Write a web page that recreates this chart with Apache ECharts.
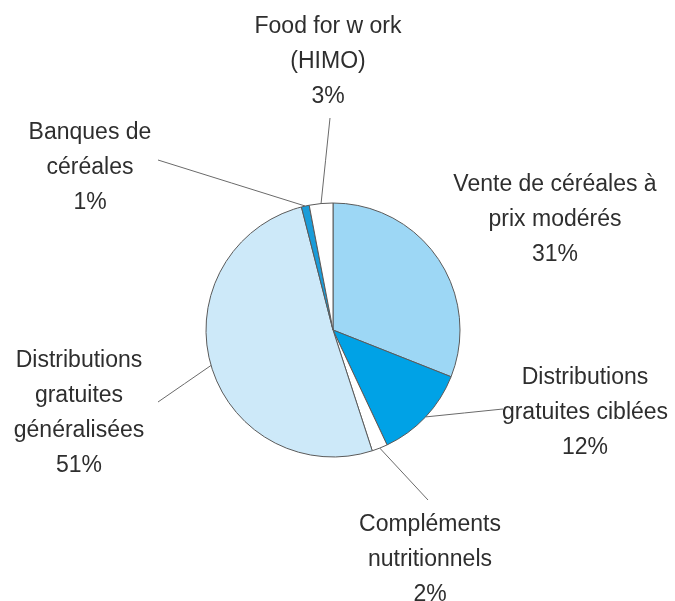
<!DOCTYPE html>
<html>
<head>
<meta charset="utf-8">
<script src="https://cdn.jsdelivr.net/npm/echarts@6/dist/echarts.min.js"></script>
<style>
  html, body { margin: 0; padding: 0; background: #fff; }
  #chart { width: 675px; height: 601px; }
</style>
</head>
<body>
<div id="chart"></div>
<script>
// slices, clockwise from 12 o'clock
const names = [
  'Vente de céréales à\nprix modérés',
  'Distributions\ngratuites ciblées',
  'Compléments\nnutritionnels',
  'Distributions\ngratuites\ngénéralisées',
  'Banques de\ncéréales',
  'Food for w ork\n(HIMO)'
]
const values = [31, 12, 2, 51, 1, 3]
const colors = ['#9dd7f5', '#00a2e6', '#ffffff', '#cde9f9', '#1a9cd9', '#ffffff']

// label centres and where the leader line stops (pixels)
const labelPos = [[555, 220], [585, 413], [430, 560], [79, 413], [90, 168], [328, 62]]
const lineEnd = [null, [503, 409], [428, 500], [158, 402], [158, 160], [330, 118]]

const chart = echarts.init(document.getElementById('chart'))

const option = {
  animation: false,
  series: [{
    type: 'pie',
    center: [333, 330],
    radius: 127,
    startAngle: 90,
    clockwise: true,
    data: names.map((n, i) => ({
      name: n,
      value: values[i],
      itemStyle: { color: colors[i] },
      labelLine: { show: lineEnd[i] != null }
    })),
    itemStyle: { borderColor: '#5a5a5a', borderWidth: 1 },
    label: {
      show: true,
      position: 'outside',
      formatter: '{b}\n{d}%',
      fontFamily: 'Liberation Sans, Arial, sans-serif',
      fontSize: 23,
      lineHeight: 35,
      color: '#2e2e2e',
      align: 'center',
      overflow: 'none',
      edgeDistance: 0
    },
    labelLine: {
      lineStyle: { color: '#6a6a6a', width: 1 }
    },
    labelLayout: function (params) {
      const i = params.dataIndex
      const res = {
        x: labelPos[i][0],
        y: labelPos[i][1],
        align: 'center',
        verticalAlign: 'middle'
      }
      if (lineEnd[i] && params.labelLinePoints) {
        const a = params.labelLinePoints[0]
        const b = lineEnd[i]
        res.labelLinePoints = [a, [(a[0] + b[0]) / 2, (a[1] + b[1]) / 2], b]
      }
      return res
    }
  }]
}

chart.setOption(option)
</script>
</body>
</html>
